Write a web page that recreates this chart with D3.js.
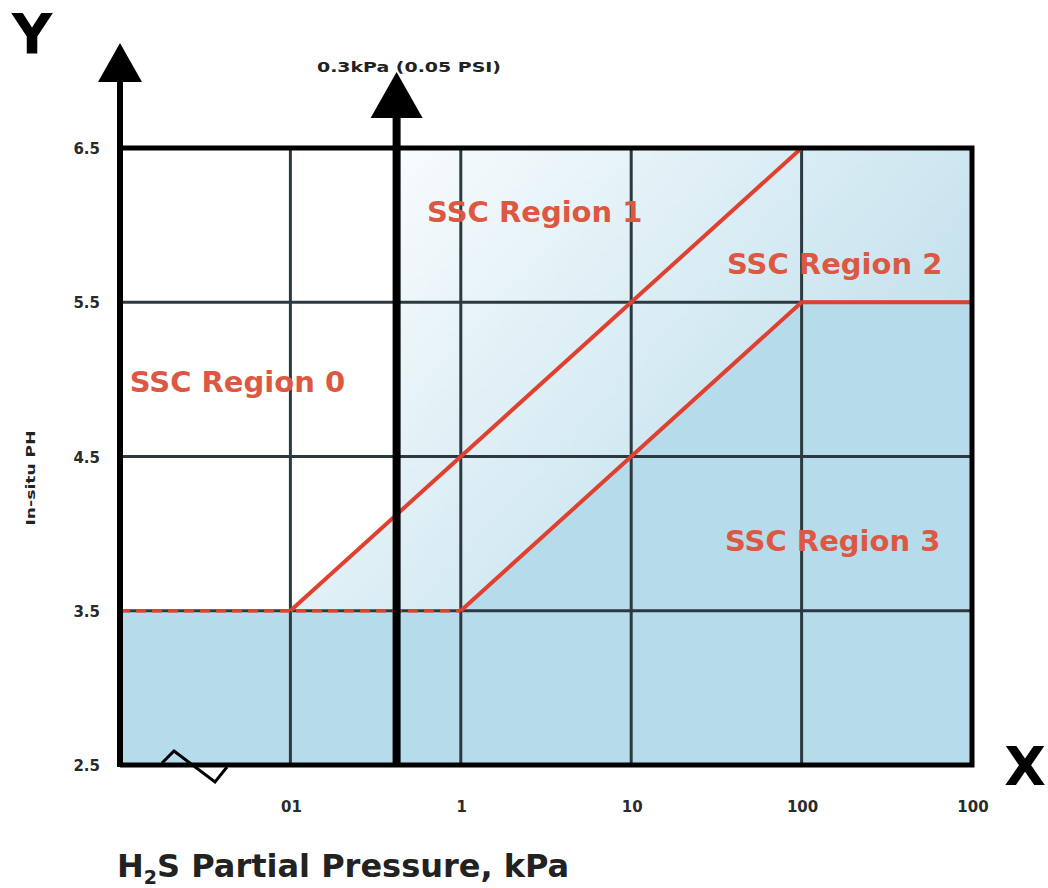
<!DOCTYPE html>
<html lang="en">
<head>
<meta charset="UTF-8">
<title>SSC Regions</title>
<script src="https://d3js.org/d3.v7.min.js"></script>
<style>
  body { margin: 0; background: #fff; }
  text { font-family: "DejaVu Sans", sans-serif; font-weight: bold; }
</style>
</head>
<body>
<svg width="1048" height="888"></svg>
<script>
// values
const phTicks = [2.5, 3.5, 4.5, 5.5, 6.5];
const kpaTicks = [0.1, 1, 10, 100, 1000];
const kpaTickLabels = ["01", "1", "10", "100", "100"];
const upperLine = [[0.1, 3.5], [100, 6.5]];
const lowerLine = [[1, 3.5], [100, 5.5], [1000, 5.5]];
const dashedLine = [[0.01, 3.5], [1, 3.5]];
const markerKpa = 0.42;   // where the 0.3kPa line sits on the drawing
const markerLabel = "0.3kPa (0.05 PSI)";
const regionNames = ["SSC Region 0", "SSC Region 1", "SSC Region 2", "SSC Region 3"];
const regionAnchors = [[0.0114, 4.92], [0.634, 6.02], [36.5, 5.68], [35.5, 3.89]];

const svg = d3.select("svg");
const pLeft = 120, pRight = 972, pTop = 148, pBottom = 765;

const x = d3.scaleLog().domain([0.01, 1000]).range([pLeft, pRight]);
const y = d3.scaleLinear().domain([2.5, 6.5]).range([pBottom, pTop]);
const line = d3.line().x(d => x(d[0])).y(d => y(d[1]));

const red = "#e0402f", labelRed = "#dc5843", blue = "#b6dceb", grid = "#2c3a40";

const defs = svg.append("defs");
const grad = defs.append("linearGradient").attr("id", "bg")
  .attr("gradientUnits", "userSpaceOnUse")
  .attr("x1", 300).attr("y1", 150).attr("x2", 800).attr("y2", 600);
grad.append("stop").attr("offset", 0).attr("stop-color", "#ffffff");
grad.append("stop").attr("offset", 1).attr("stop-color", "#bcdeeb");

// background with gradient
svg.append("rect").attr("x", pLeft).attr("y", pTop)
  .attr("width", pRight - pLeft).attr("height", pBottom - pTop)
  .attr("fill", "url(#bg)");

// region 0 (white) left of the marker line, above the upper boundary
const upY = v => {
  const t = (Math.log10(v) - Math.log10(upperLine[0][0])) /
            (Math.log10(upperLine[1][0]) - Math.log10(upperLine[0][0]));
  return upperLine[0][1] + t * (upperLine[1][1] - upperLine[0][1]);
};
svg.append("path")
  .attr("d", line([[0.01, 6.5], [markerKpa, 6.5], [markerKpa, upY(markerKpa)],
                   upperLine[0], [0.01, 3.5]]) + "Z")
  .attr("fill", "#ffffff");

// region 3 (solid blue)
svg.append("path")
  .attr("d", line([[0.01, 3.5], ...lowerLine, [1000, 2.5], [0.01, 2.5]]) + "Z")
  .attr("fill", blue);

// grid lines
svg.append("g").selectAll("line").data(kpaTicks.slice(0, -1)).join("line")
  .attr("x1", d => x(d)).attr("x2", d => x(d))
  .attr("y1", pTop).attr("y2", pBottom)
  .attr("stroke", grid).attr("stroke-width", 3);
svg.append("g").selectAll("line").data(phTicks.slice(1, -1)).join("line")
  .attr("x1", pLeft).attr("x2", pRight)
  .attr("y1", d => y(d)).attr("y2", d => y(d))
  .attr("stroke", grid).attr("stroke-width", 3);

// red boundaries
svg.append("path").attr("d", line(upperLine))
  .attr("fill", "none").attr("stroke", red).attr("stroke-width", 4);
svg.append("path").attr("d", line(lowerLine))
  .attr("fill", "none").attr("stroke", red).attr("stroke-width", 4)
  .attr("stroke-linejoin", "miter");
svg.append("path").attr("d", line(dashedLine))
  .attr("fill", "none").attr("stroke", red).attr("stroke-width", 3.5)
  .attr("stroke-dasharray", "10 6");

// frame
svg.append("path")
  .attr("d", `M${pLeft},${pTop}H${pRight}V${pBottom}H${pLeft}`)
  .attr("fill", "none").attr("stroke", "#000").attr("stroke-width", 5);

// y axis with arrow
svg.append("line").attr("x1", pLeft).attr("x2", pLeft)
  .attr("y1", pBottom + 2).attr("y2", 78)
  .attr("stroke", "#000").attr("stroke-width", 6);
svg.append("path").attr("d", `M${pLeft},43L${pLeft + 22},82L${pLeft - 22},82Z`).attr("fill", "#000");

// marker line with arrow
const mx = x(markerKpa);
svg.append("line").attr("x1", mx).attr("x2", mx)
  .attr("y1", pBottom).attr("y2", 112)
  .attr("stroke", "#000").attr("stroke-width", 8);
svg.append("path").attr("d", `M${mx},72L${mx + 26},118L${mx - 26},118Z`).attr("fill", "#000");
svg.append("text").attr("x", 409).attr("y", 72).attr("text-anchor", "middle")
  .attr("font-size", 14).attr("textLength", 184).attr("lengthAdjust", "spacingAndGlyphs")
  .attr("fill", "#222").text(markerLabel);

// axis break zigzag
svg.append("path").attr("d", "M162,763L174,751L215,782L227,767")
  .attr("fill", "none").attr("stroke", "#000").attr("stroke-width", 3);

// tick labels
svg.append("g").selectAll("text").data(phTicks).join("text")
  .attr("x", 100).attr("y", d => y(d) + 6).attr("text-anchor", "end")
  .attr("font-size", 15).attr("fill", "#2a2a2a").text(d => d.toFixed(1));
svg.append("g").selectAll("text").data(kpaTicks).join("text")
  .attr("x", d => x(d) + 1).attr("y", 812).attr("text-anchor", "middle")
  .attr("font-size", 15).attr("fill", "#2a2a2a").text((d, i) => kpaTickLabels[i]);

// axis letters and titles
svg.append("text").attr("x", 32).attr("y", 53).attr("text-anchor", "middle")
  .attr("font-size", 56).attr("fill", "#000").text("Y");
svg.append("text").attr("x", 1025).attr("y", 785).attr("text-anchor", "middle")
  .attr("font-size", 54).attr("fill", "#000").text("X");
svg.append("text").attr("transform", "translate(35,478) rotate(-90)")
  .attr("text-anchor", "middle").attr("font-size", 13)
  .attr("textLength", 95).attr("lengthAdjust", "spacingAndGlyphs")
  .attr("fill", "#222").text("In-situ PH");

const xt = svg.append("text").attr("x", 117).attr("y", 877)
  .attr("font-size", 32).attr("fill", "#222");
xt.append("tspan").text("H");
xt.append("tspan").attr("font-size", 19).attr("dy", 7).text("2");
xt.append("tspan").attr("dy", -7).text("S Partial Pressure, kPa");

// region labels
svg.append("g").selectAll("text").data(regionNames).join("text")
  .attr("x", (d, i) => x(regionAnchors[i][0]))
  .attr("y", (d, i) => y(regionAnchors[i][1]))
  .attr("font-size", 29).attr("fill", labelRed).text(d => d);
</script>
</body>
</html>
